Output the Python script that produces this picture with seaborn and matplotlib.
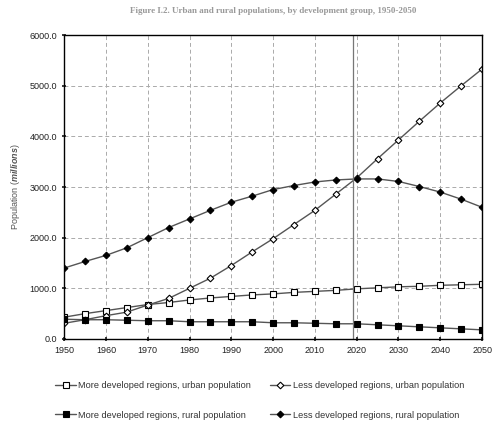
import numpy as np
import pandas as pd
import seaborn as sns
from matplotlib import pyplot as plt

sns.set_theme(style="white")
plt.rcParams["font.family"] = ["Liberation Sans", "DejaVu Sans"]
plt.rcParams["mathtext.fontset"] = "custom"
plt.rcParams["mathtext.bfit"] = "Liberation Sans:italic:bold"

years = list(range(1950, 2051, 5))

more_urban = [430, 500, 560, 620, 680, 720, 770, 810, 840, 870, 890,
              920, 940, 960, 990, 1010, 1030, 1040, 1060, 1070, 1080]
less_urban = [310, 380, 460, 530, 670, 800, 1000, 1200, 1450, 1720, 1980,
              2260, 2540, 2860, 3180, 3560, 3930, 4300, 4660, 5000, 5330]
more_rural = [390, 380, 380, 370, 360, 360, 340, 340, 340, 340, 320,
              320, 310, 300, 300, 280, 260, 240, 220, 200, 180]
less_rural = [1400, 1530, 1650, 1800, 2000, 2200, 2370, 2540, 2700, 2820, 2950,
              3030, 3100, 3140, 3160, 3160, 3110, 3010, 2900, 2760, 2600]

series_names = [
    "More developed regions, urban population",
    "Less developed regions, urban population",
    "More developed regions, rural population",
    "Less developed regions, rural population",
]
series_values = [more_urban, less_urban, more_rural, less_rural]
markers = ["s", "D", "s", "D"]
faces = ["white", "white", "black", "black"]
sizes = [4.2, 3.4, 4.2, 3.4]

fig = plt.figure(figsize=(4.97, 4.28), dpi=100)
ax = fig.add_axes([0.129, 0.208, 0.841, 0.71])

for name, vals, mk, fc, ms in zip(series_names, series_values, markers, faces, sizes):
    sns.lineplot(x=years, y=vals, ax=ax, label=name, color="#555555", linewidth=1.0,
                 marker=mk, markersize=ms, markerfacecolor=fc,
                 markeredgecolor="black", markeredgewidth=0.8)

ax.axvline(2019.2, color="#777777", linewidth=0.9)

ax.set_xlim(1950, 2050)
ax.set_ylim(0, 6000)
ax.set_xticks(range(1950, 2051, 10))
ax.set_yticks(range(0, 6001, 1000))
ax.set_yticklabels([f"{v:.1f}" for v in range(0, 6001, 1000)])
ax.tick_params(labelsize=6.5, length=3, direction="inout", colors="#222222",
               left=True, bottom=True)
ax.grid(True, color="#aaaaaa", linestyle=(0, (4, 3)), linewidth=0.7)
for s in ax.spines.values():
    s.set_color("black")
    s.set_linewidth(1.0)

ax.set_ylabel("Population ($\\mathbfit{millions}$)", fontsize=6.5, color="#555555")
ax.yaxis.set_label_coords(-0.1, 0.5)

fig.text(0.55, 0.975, "Figure I.2. Urban and rural populations, by development group, 1950-2050",
         ha="center", va="center", fontsize=6.5, color="#999999",
         family=["Liberation Serif", "DejaVu Serif"], fontweight="bold")

handles, labels = ax.get_legend_handles_labels()
ax.legend_.remove()
order = [0, 2, 1, 3]
fig.legend([handles[i] for i in order], [labels[i] for i in order], ncol=2,
           loc="upper left", bbox_to_anchor=(0.095, 0.128),
           frameon=False, fontsize=6.6, handlelength=2.2, handletextpad=0.3,
           columnspacing=2.0, labelspacing=2.2, labelcolor="#333333")

fig.savefig("out.png", dpi=100)
